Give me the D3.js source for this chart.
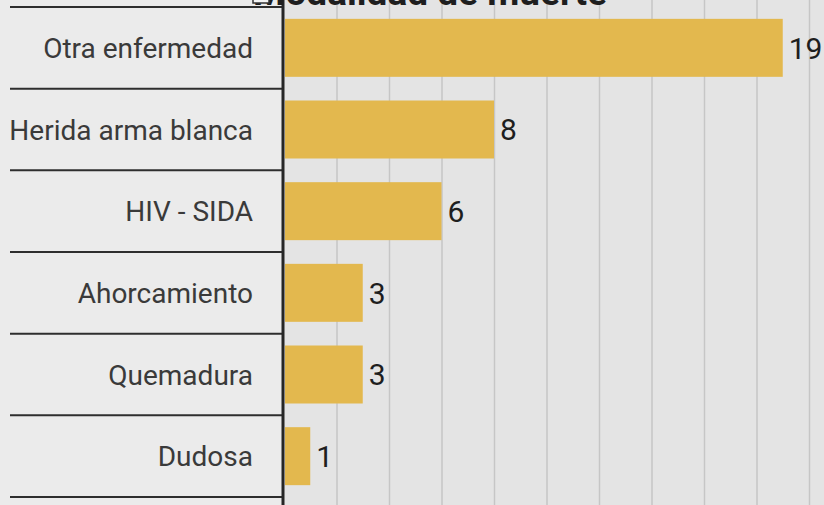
<!DOCTYPE html>
<html>
<head>
<meta charset="utf-8">
<script src="https://cdn.jsdelivr.net/npm/d3@7"></script>
<style>
  html, body { margin: 0; padding: 0; background: #ebebeb; }
  svg { display: block; }
  .label { font-family: Roboto, sans-serif; font-size: 28px; fill: #3a3a3a; }
  .value { font-family: Roboto, sans-serif; font-size: 30px; fill: #1e1e1e; }
  .title { font-family: Roboto, sans-serif; font-size: 37px; font-weight: bold; fill: #1e1e1e; }
  .grid line { stroke: #c6c6c6; stroke-width: 1.5; }
  .grid path { display: none; }
</style>
</head>
<body>
<div id="chart"></div>
<script>
const categories = ["Otra enfermedad", "Herida arma blanca", "HIV - SIDA", "Ahorcamiento", "Quemadura", "Dudosa"];
const values = [19, 8, 6, 3, 3, 1];
const gridTicks = [2, 4, 6, 8, 10, 12, 14, 16, 18, 20, 22];
const title = "Modalidad de muerte";

const width = 824;
const height = 505;
const plotLeft = 284;
const plotTop = 7;
const plotBottom = 497;

const data = categories.map((c, i) => ({ name: c, value: values[i] }));

const svg = d3.select("#chart").append("svg")
  .attr("width", width)
  .attr("height", height);

// backgrounds
svg.append("rect").attr("x", 0).attr("y", 0).attr("width", plotLeft).attr("height", height).attr("fill", "#ebebeb");
svg.append("rect").attr("x", plotLeft).attr("y", 0).attr("width", width - plotLeft).attr("height", height).attr("fill", "#e4e4e4");

const xScale = d3.scaleLinear().domain([0, 20]).range([plotLeft, 809]);
const yScale = d3.scaleBand()
  .domain(categories)
  .range([plotTop, plotBottom])
  .paddingInner(0.29)
  .paddingOuter(0.145);

// vertical grid
svg.append("g")
  .attr("class", "grid")
  .attr("transform", `translate(0,${height})`)
  .call(d3.axisBottom(xScale).tickValues(gridTicks).tickSize(-height).tickFormat(""));

// bars
svg.selectAll(".bar")
  .data(data)
  .join("rect")
  .attr("class", "bar")
  .attr("x", xScale(0) + 1)
  .attr("y", d => yScale(d.name))
  .attr("width", d => xScale(d.value) - xScale(0) - 1)
  .attr("height", yScale.bandwidth())
  .attr("fill", "#e3b84e");

// value labels
svg.selectAll(".value")
  .data(data)
  .join("text")
  .attr("class", "value")
  .attr("x", d => xScale(d.value) + 6)
  .attr("y", d => yScale(d.name) + yScale.bandwidth() / 2)
  .attr("dy", "0.36em")
  .text(d => d.value);

// row separators in the label column
const step = yScale.step();
const bounds = d3.range(categories.length + 1).map(i => plotTop + i * step);
svg.selectAll(".sep")
  .data(bounds)
  .join("line")
  .attr("class", "sep")
  .attr("x1", 10)
  .attr("x2", plotLeft)
  .attr("y1", d => d)
  .attr("y2", d => d)
  .attr("stroke", "#2e2e2e")
  .attr("stroke-width", 2);

// category labels
svg.selectAll(".label")
  .data(data)
  .join("text")
  .attr("class", "label")
  .attr("x", plotLeft - 31)
  .attr("y", d => yScale(d.name) + yScale.bandwidth() / 2)
  .attr("dy", "0.36em")
  .attr("text-anchor", "end")
  .text(d => d.name);

// y axis line
svg.append("line")
  .attr("x1", plotLeft - 1).attr("x2", plotLeft - 1)
  .attr("y1", 0).attr("y2", height)
  .attr("stroke", "#262626")
  .attr("stroke-width", 3);

// title, mostly cut off at the top like the original
svg.append("text")
  .attr("class", "title")
  .attr("x", 430)
  .attr("y", 5)
  .attr("text-anchor", "middle")
  .text(title);

// small box over the title start
svg.append("rect")
  .attr("x", 253).attr("y", -4).attr("width", 16).attr("height", 7)
  .attr("fill", "#f4f4f4").attr("stroke", "#333").attr("stroke-width", 1.5);
</script>
</body>
</html>
